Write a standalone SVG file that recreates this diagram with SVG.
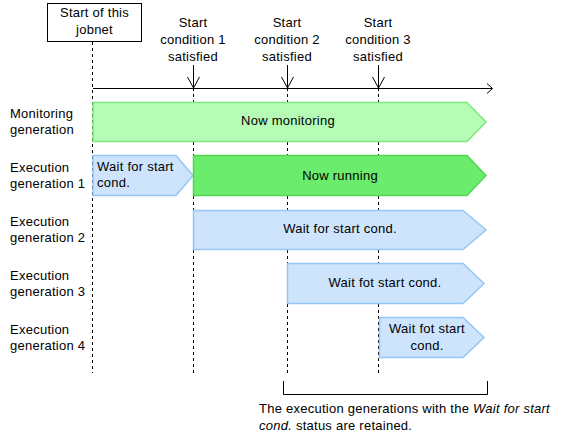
<svg xmlns="http://www.w3.org/2000/svg" width="588" height="439" viewBox="0 0 588 439">
<style>
text{font-family:"Liberation Sans",Arial,sans-serif;font-size:13px;fill:#000;letter-spacing:0.25px}
.c{text-anchor:middle}
.dash{stroke:#000;stroke-width:1;stroke-dasharray:3,3;fill:none}
.ln{stroke:#000;stroke-width:1;fill:none}
.mon{fill:#b6fcb6;stroke:#7ee87e;stroke-width:1.5}
.run{fill:#6cec6c;stroke:#52d652;stroke-width:1.5}
.wait{fill:#cde4fc;stroke:#96c6f6;stroke-width:1.5}
</style>
<rect width="588" height="439" fill="#fff"/>
<g id="connectors">
<line class="dash" x1="92.5" y1="42" x2="92.5" y2="373"/>
<line class="dash" x1="193.5" y1="88" x2="193.5" y2="373"/>
<line class="dash" x1="287.5" y1="88" x2="287.5" y2="373"/>
<line class="dash" x1="378.5" y1="88" x2="378.5" y2="373"/>
<line class="ln" x1="93" y1="88.5" x2="492" y2="88.5"/>
<polyline class="ln" points="487,83.5 492.5,88.5 487,93.5"/>
<line class="ln" x1="193.5" y1="65" x2="193.5" y2="88"/>
<polyline class="ln" points="187.5,77 193.5,88 199.5,77"/>
<line class="ln" x1="287.5" y1="65" x2="287.5" y2="88"/>
<polyline class="ln" points="281.5,77 287.5,88 293.5,77"/>
<line class="ln" x1="378.5" y1="65" x2="378.5" y2="88"/>
<polyline class="ln" points="372.5,77 378.5,88 384.5,77"/>
<polyline class="ln" points="283.5,381 283.5,394.5 487.5,394.5 487.5,381"/>
</g>
<g id="start-box">
<rect x="47.5" y="3.5" width="94" height="38" fill="#fff" stroke="#000"/>
<text class="c" x="94.5" y="17">Start of this</text>
<text class="c" x="94.5" y="34">jobnet</text>
</g>
<g id="cond1">
<text class="c" x="193" y="27">Start</text>
<text class="c" x="193" y="44">condition 1</text>
<text class="c" x="193" y="61">satisfied</text>
</g>
<g id="cond2">
<text class="c" x="287" y="27">Start</text>
<text class="c" x="287" y="44">condition 2</text>
<text class="c" x="287" y="61">satisfied</text>
</g>
<g id="cond3">
<text class="c" x="378" y="27">Start</text>
<text class="c" x="378" y="44">condition 3</text>
<text class="c" x="378" y="61">satisfied</text>
</g>
<g id="row-labels">
<text x="10" y="118">Monitoring</text>
<text x="10" y="134">generation</text>
<text x="10" y="172">Execution</text>
<text x="10" y="188">generation 1</text>
<text x="10" y="226">Execution</text>
<text x="10" y="242">generation 2</text>
<text x="10" y="280">Execution</text>
<text x="10" y="296">generation 3</text>
<text x="10" y="334">Execution</text>
<text x="10" y="350">generation 4</text>
</g>
<g id="monitoring">
<polygon class="mon" points="93,102.5 467,102.5 486,122 467,141.5 93,141.5"/>
<text class="c" x="288" y="125">Now monitoring</text>
</g>
<g id="gen1-wait">
<polygon class="wait" points="93,155.5 176,155.5 193,175.5 176,195.5 93,195.5"/>
<text x="97" y="171">Wait for start</text>
<text x="97" y="187">cond.</text>
</g>
<g id="gen1-run">
<polygon class="run" points="193.5,155.5 467,155.5 486,175.5 467,195.5 193.5,195.5"/>
<text class="c" x="340" y="180">Now running</text>
</g>
<g id="gen2">
<polygon class="wait" points="193.5,210.5 463,210.5 486,230 463,249.5 193.5,249.5"/>
<text class="c" x="340" y="233">Wait for start cond.</text>
</g>
<g id="gen3">
<polygon class="wait" points="287.5,263.5 463,263.5 484,283.5 463,303.5 287.5,303.5"/>
<text class="c" x="385" y="287">Wait fot start cond.</text>
</g>
<g id="gen4">
<polygon class="wait" points="379.5,317.5 463,317.5 484,337.5 463,357.5 379.5,357.5"/>
<text class="c" x="427" y="333">Wait fot start</text>
<text class="c" x="427" y="350">cond.</text>
</g>
<g id="caption">
<text x="259" y="413">The execution generations with the <tspan font-style="italic">Wait for start</tspan></text>
<text x="259" y="430"><tspan font-style="italic">cond.</tspan> status are retained.</text>
</g>
</svg>
